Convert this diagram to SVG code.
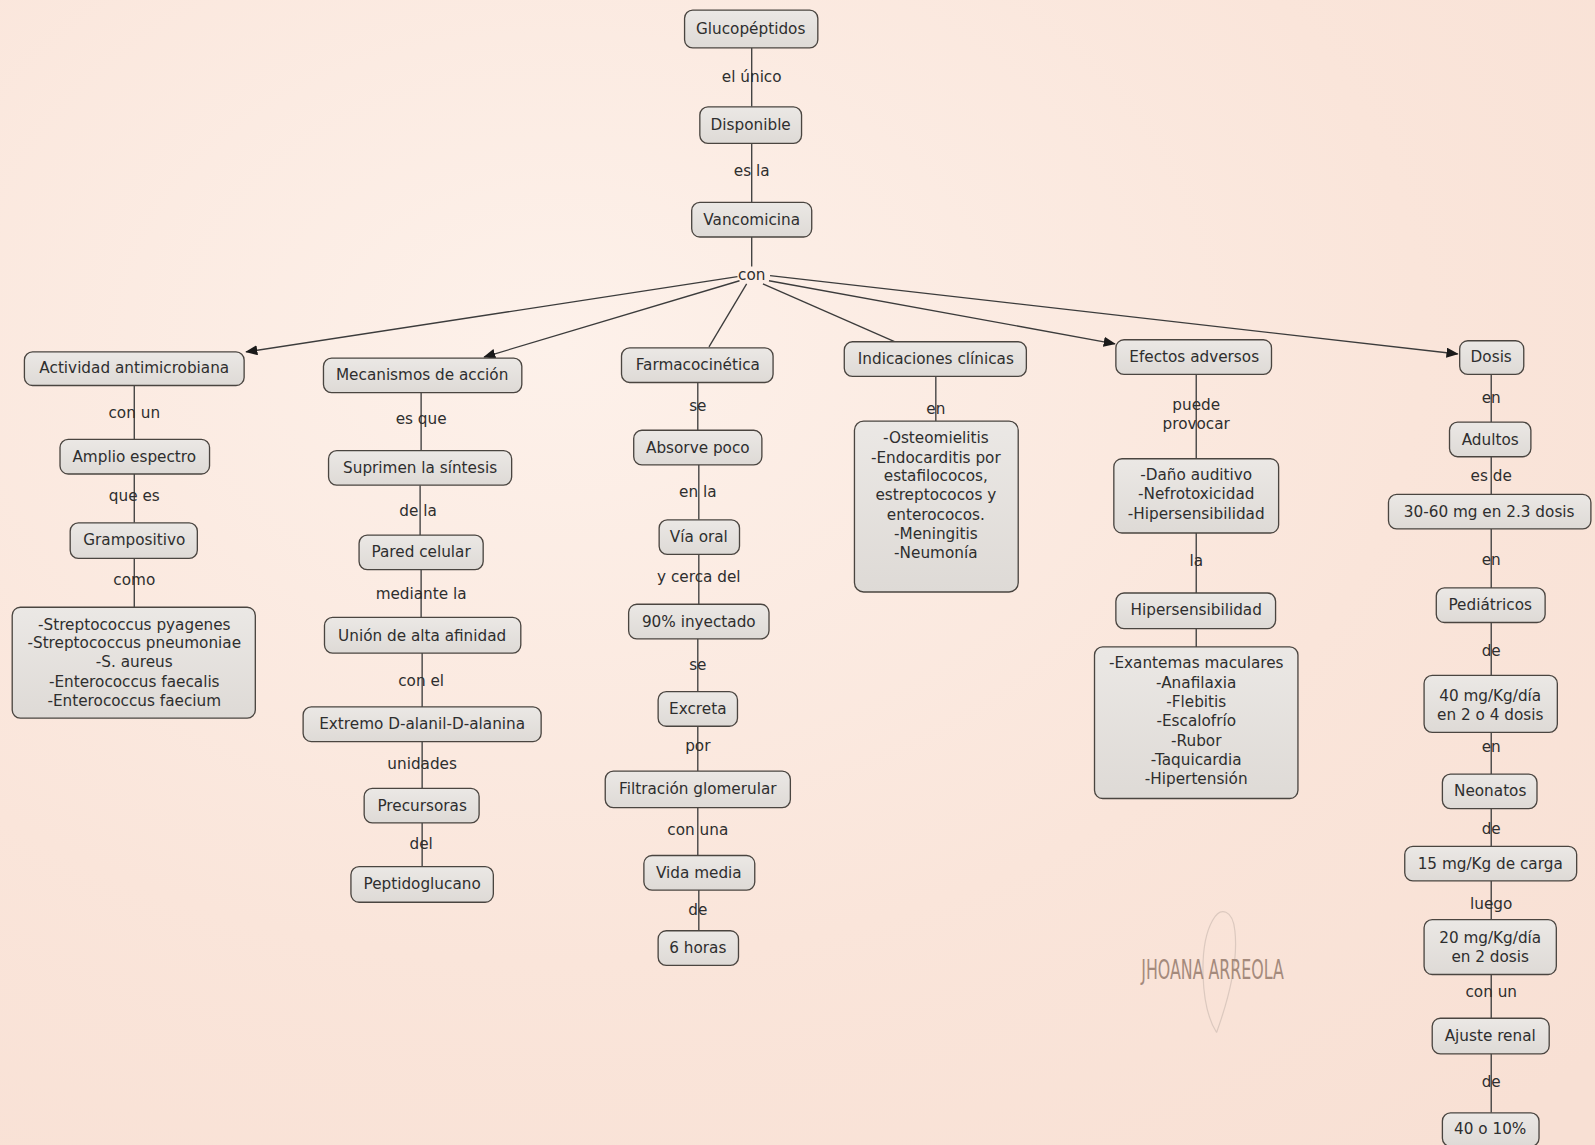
<svg xmlns="http://www.w3.org/2000/svg" width="1595" height="1145" viewBox="0 0 1595 1145">
<defs>
<radialGradient id="bg" cx="0.35" cy="0.3" r="0.9">
<stop offset="0" stop-color="#fdf1ea"/>
<stop offset="0.6" stop-color="#fae5da"/>
<stop offset="1" stop-color="#f8e0d4"/>
</radialGradient>
<linearGradient id="nf" x1="0" y1="0" x2="0" y2="1">
<stop offset="0" stop-color="#ebe8e5"/>
<stop offset="1" stop-color="#dedad6"/>
</linearGradient>
<marker id="ah" viewBox="0 0 12 10" refX="11" refY="5" markerWidth="12" markerHeight="10" markerUnits="userSpaceOnUse" orient="auto">
<path d="M0,0 L12,5 L0,10 Z" fill="#1a1a1a"/>
</marker>
<style>
.n{fill:url(#nf);stroke:#4a4540;stroke-width:1.3}
.t{font-family:"DejaVu Sans","Verdana",sans-serif;font-size:15px;fill:#2e2e2e;text-anchor:middle}
.l{font-family:"DejaVu Sans","Verdana",sans-serif;font-size:15px;fill:#2e2e2e;text-anchor:middle}
.c{stroke:#3c3c3c;stroke-width:1.3;fill:none}
</style>
</defs>
<rect width="1595" height="1145" fill="url(#bg)"/>
<g transform="scale(1.0172)">
<g id="connectors">
<path class="c" d="M739,47 V105 M739,141 V199 M739,233 V262"/>
<path class="c" d="M725,272 L242,346" marker-end="url(#ah)"/>
<path class="c" d="M727,276 L476,351" marker-end="url(#ah)"/>
<path class="c" d="M734,279 L697,341"/>
<path class="c" d="M750,279 L880,336"/>
<path class="c" d="M756,276 L1096,338" marker-end="url(#ah)"/>
<path class="c" d="M757,271 L1433,348" marker-end="url(#ah)"/>
<path class="c" d="M132,379 V432 M132,466 V514 M132,549 V597"/>
<path class="c" d="M414,386 V443 M413,477 V526 M414,560 V607 M415,642 V695 M415,729 V775 M415,809 V852"/>
<path class="c" d="M686,376 V423 M687,457 V511 M687,545 V594 M686,628 V680 M686,714 V758 M686,794 V841 M687,875 V915"/>
<path class="c" d="M920,370 V414"/>
<path class="c" d="M1176,368 V451 M1176,524 V583 M1176,618 V636"/>
<path class="c" d="M1466,368 V415 M1466,449 V486 M1466,520 V578 M1466,612 V664 M1466,720 V761 M1466,795 V832 M1466,866 V904 M1466,958 V1001 M1466,1036 V1094"/>
</g>

<g id="link-labels">
<text x="739" y="81" class="l">el único</text>
<text x="739" y="173" class="l">es la</text>
<text x="739" y="275" class="l">con</text>
<text x="132" y="411" class="l">con un</text>
<text x="132" y="493" class="l">que es</text>
<text x="132" y="575" class="l">como</text>
<text x="414" y="417" class="l">es que</text>
<text x="411" y="507" class="l">de la</text>
<text x="414" y="589" class="l">mediante la</text>
<text x="414" y="674" class="l">con el</text>
<text x="415" y="756" class="l">unidades</text>
<text x="414" y="835" class="l">del</text>
<text x="686" y="404" class="l">se</text>
<text x="686" y="489" class="l">en la</text>
<text x="687" y="572" class="l">y cerca del</text>
<text x="686" y="659" class="l">se</text>
<text x="686" y="738" class="l">por</text>
<text x="686" y="821" class="l">con una</text>
<text x="686" y="900" class="l">de</text>
<text x="920" y="407" class="l">en</text>
<text x="1176" y="403" class="l">puede</text>
<text x="1176" y="422" class="l">provocar</text>
<text x="1176" y="556" class="l">la</text>
<text x="1466" y="396" class="l">en</text>
<text x="1466" y="473" class="l">es de</text>
<text x="1466" y="555" class="l">en</text>
<text x="1466" y="645" class="l">de</text>
<text x="1466" y="739" class="l">en</text>
<text x="1466" y="820" class="l">de</text>
<text x="1466" y="894" class="l">luego</text>
<text x="1466" y="980" class="l">con un</text>
<text x="1466" y="1069" class="l">de</text>
</g>

<g id="n-glucopeptidos"><rect class="n" x="673" y="10" width="131" height="37" rx="8"/><text class="t" x="738" y="33">Glucopéptidos</text></g>
<g id="n-disponible"><rect class="n" x="688" y="105" width="100" height="36" rx="8"/><text class="t" x="738" y="128">Disponible</text></g>
<g id="n-vancomicina"><rect class="n" x="680" y="199" width="118" height="34" rx="8"/><text class="t" x="739" y="221">Vancomicina</text></g>

<g id="n-actividad"><rect class="n" x="24" y="346" width="216" height="33" rx="8"/><text class="t" x="132" y="367">Actividad antimicrobiana</text></g>
<g id="n-amplio"><rect class="n" x="59" y="432" width="147" height="34" rx="8"/><text class="t" x="132" y="454">Amplio espectro</text></g>
<g id="n-grampositivo"><rect class="n" x="69" y="514" width="125" height="35" rx="8"/><text class="t" x="132" y="536">Grampositivo</text></g>
<g id="n-bacterias"><rect class="n" x="12" y="597" width="239" height="109" rx="8"/>
<text class="t" x="132" y="619">-Streptococcus pyagenes</text>
<text class="t" x="132" y="637">-Streptococcus pneumoniae</text>
<text class="t" x="132" y="656">-S. aureus</text>
<text class="t" x="132" y="675">-Enterococcus faecalis</text>
<text class="t" x="132" y="694">-Enterococcus faecium</text></g>

<g id="n-mecanismos"><rect class="n" x="318" y="352" width="195" height="34" rx="8"/><text class="t" x="415" y="374">Mecanismos de acción</text></g>
<g id="n-suprimen"><rect class="n" x="323" y="443" width="180" height="34" rx="8"/><text class="t" x="413" y="465">Suprimen la síntesis</text></g>
<g id="n-pared"><rect class="n" x="353" y="526" width="122" height="34" rx="8"/><text class="t" x="414" y="548">Pared celular</text></g>
<g id="n-union"><rect class="n" x="319" y="607" width="193" height="35" rx="8"/><text class="t" x="415" y="630">Unión de alta afinidad</text></g>
<g id="n-extremo"><rect class="n" x="298" y="695" width="234" height="34" rx="8"/><text class="t" x="415" y="717">Extremo D-alanil-D-alanina</text></g>
<g id="n-precursoras"><rect class="n" x="358" y="775" width="113" height="34" rx="8"/><text class="t" x="415" y="797">Precursoras</text></g>
<g id="n-peptidoglucano"><rect class="n" x="345" y="852" width="140" height="35" rx="8"/><text class="t" x="415" y="874">Peptidoglucano</text></g>

<g id="n-farmaco"><rect class="n" x="611" y="342" width="149" height="34" rx="8"/><text class="t" x="686" y="364">Farmacocinética</text></g>
<g id="n-absorve"><rect class="n" x="623" y="423" width="126" height="34" rx="8"/><text class="t" x="686" y="445">Absorve poco</text></g>
<g id="n-via"><rect class="n" x="648" y="511" width="79" height="34" rx="8"/><text class="t" x="687" y="533">Vía oral</text></g>
<g id="n-90"><rect class="n" x="618" y="594" width="138" height="34" rx="8"/><text class="t" x="687" y="616">90% inyectado</text></g>
<g id="n-excreta"><rect class="n" x="647" y="680" width="78" height="34" rx="8"/><text class="t" x="686" y="702">Excreta</text></g>
<g id="n-filtracion"><rect class="n" x="595" y="758" width="182" height="36" rx="8"/><text class="t" x="686" y="781">Filtración glomerular</text></g>
<g id="n-vida"><rect class="n" x="633" y="841" width="109" height="34" rx="8"/><text class="t" x="687" y="863">Vida media</text></g>
<g id="n-6horas"><rect class="n" x="647" y="915" width="79" height="34" rx="8"/><text class="t" x="686" y="937">6 horas</text></g>

<g id="n-indicaciones"><rect class="n" x="830" y="336" width="179" height="34" rx="8"/><text class="t" x="920" y="358">Indicaciones clínicas</text></g>
<g id="n-lista-indic"><rect class="n" x="840" y="414" width="161" height="168" rx="9"/>
<text class="t" x="920" y="436">-Osteomielitis</text>
<text class="t" x="920" y="455">-Endocarditis por</text>
<text class="t" x="920" y="473">estafilococos,</text>
<text class="t" x="920" y="492">estreptococos y</text>
<text class="t" x="920" y="511">enterococos.</text>
<text class="t" x="920" y="530">-Meningitis</text>
<text class="t" x="920" y="549">-Neumonía</text></g>

<g id="n-efectos"><rect class="n" x="1097" y="334" width="153" height="34" rx="8"/><text class="t" x="1174" y="356">Efectos adversos</text></g>
<g id="n-lista-efectos"><rect class="n" x="1095" y="451" width="162" height="73" rx="8"/>
<text class="t" x="1176" y="472">-Daño auditivo</text>
<text class="t" x="1176" y="491">-Nefrotoxicidad</text>
<text class="t" x="1176" y="510">-Hipersensibilidad</text></g>
<g id="n-hipersensibilidad"><rect class="n" x="1097" y="583" width="157" height="35" rx="8"/><text class="t" x="1176" y="605">Hipersensibilidad</text></g>
<g id="n-lista-hiper"><rect class="n" x="1076" y="636" width="200" height="149" rx="8"/>
<text class="t" x="1176" y="657">-Exantemas maculares</text>
<text class="t" x="1176" y="676">-Anafilaxia</text>
<text class="t" x="1176" y="695">-Flebitis</text>
<text class="t" x="1176" y="714">-Escalofrío</text>
<text class="t" x="1176" y="733">-Rubor</text>
<text class="t" x="1176" y="752">-Taquicardia</text>
<text class="t" x="1176" y="771">-Hipertensión</text></g>

<g id="n-dosis"><rect class="n" x="1435" y="335" width="63" height="33" rx="8"/><text class="t" x="1466" y="356">Dosis</text></g>
<g id="n-adultos"><rect class="n" x="1425" y="415" width="80" height="34" rx="8"/><text class="t" x="1465" y="437">Adultos</text></g>
<g id="n-3060"><rect class="n" x="1365" y="486" width="199" height="34" rx="8"/><text class="t" x="1464" y="508">30-60 mg en 2.3 dosis</text></g>
<g id="n-pediatricos"><rect class="n" x="1412" y="578" width="107" height="34" rx="8"/><text class="t" x="1465" y="600">Pediátricos</text></g>
<g id="n-40mg"><rect class="n" x="1400" y="664" width="131" height="56" rx="8"/>
<text class="t" x="1465" y="689">40 mg/Kg/día</text>
<text class="t" x="1465" y="708">en 2 o 4 dosis</text></g>
<g id="n-neonatos"><rect class="n" x="1418" y="761" width="93" height="34" rx="8"/><text class="t" x="1465" y="783">Neonatos</text></g>
<g id="n-15mg"><rect class="n" x="1381" y="832" width="169" height="34" rx="8"/><text class="t" x="1465" y="854">15 mg/Kg de carga</text></g>
<g id="n-20mg"><rect class="n" x="1400" y="904" width="130" height="54" rx="8"/>
<text class="t" x="1465" y="927">20 mg/Kg/día</text>
<text class="t" x="1465" y="946">en 2 dosis</text></g>
<g id="n-ajuste"><rect class="n" x="1408" y="1001" width="115" height="35" rx="8"/><text class="t" x="1465" y="1023">Ajuste renal</text></g>
<g id="n-40o10"><rect class="n" x="1418" y="1094" width="95" height="33" rx="8"/><text class="t" x="1465" y="1115">40 o 10%</text></g>

<g id="watermark">
<path d="M1196,1015 C1180,990 1178,930 1192,905 C1200,890 1212,895 1214,915 C1218,950 1205,990 1196,1015" fill="none" stroke="#dcc9bf" stroke-width="1.2"/>
<text x="1122" y="962" font-family="'Liberation Sans Narrow','DejaVu Sans Condensed',sans-serif" font-size="26" fill="#a48a7c" textLength="140" lengthAdjust="spacingAndGlyphs">JHOANA ARREOLA</text>
</g>
</g>
</svg>
